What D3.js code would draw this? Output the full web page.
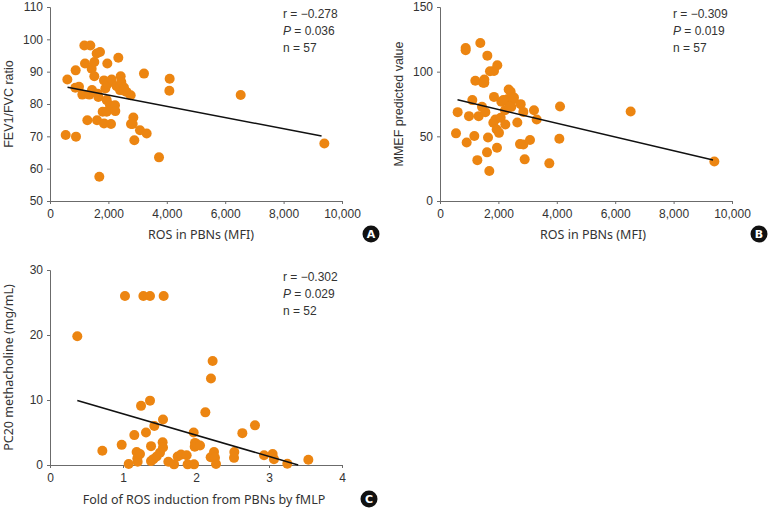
<!DOCTYPE html>
<html>
<head>
<meta charset="utf-8">
<script src="https://cdn.jsdelivr.net/npm/d3@7"></script>
<style>
  body { margin: 0; background: #fff; }
  svg { display: block; }
</style>
</head>
<body>
<svg id="chart" width="771" height="509"></svg>
<script>
// ---------- Panel A: ROS vs FEV1/FVC ----------
const aX = [537,594,890,879,993,868,1107,1176,1381,1199,1279,1347,1427,1438,1518,1518,1598,1712,1632,1610,1655,1689,1804,1849,1849,1895,1941,1963,1941,1975,2055,2089,2112,2226,2237,2283,2340,2397,2420,2420,2443,2534,2626,2763,2774,2854,2831,2888,3082,3219,3311,3733,4087,4098,6530,9395,2534];
const aY = [70.4,87.6,69.9,90.4,85.3,85.0,82.9,98.1,98.1,92.5,75.0,82.9,90.9,84.3,93.0,88.6,95.6,96.1,83.2,75.0,82.2,57.5,77.6,74.0,87.3,84.8,81.2,92.5,77.6,86.3,79.6,73.8,87.6,79.6,77.8,85.5,94.3,84.3,85.8,88.6,86.8,85.1,83.7,82.7,73.8,75.8,73.8,68.8,71.9,89.4,70.9,63.5,84.1,87.8,82.8,67.8,84.1];
const aFit = [86.23, -0.001735];
const aFitRange = [600, 9300];
const aStats = ["r = −0.278", "0.036", "n = 57"];

// ---------- Panel B: ROS vs MMEF ----------
const bX = [548,605,879,879,913,993,1107,1176,1210,1279,1324,1381,1438,1473,1518,1518,1553,1621,1644,1610,1689,1712,1849,1826,1849,1895,1941,1963,1952,2020,2078,2100,2237,2226,2306,2351,2420,2397,2443,2511,2648,2763,2740,2854,2854,2900,3082,3219,3311,3744,4087,4110,6530,9395,2169,2374,2534];
const bY = [52.3,68.7,118.3,116.5,45.3,65.6,78.0,50.2,93.0,31.6,65.6,122.2,72.8,91.4,94.0,91.4,68.7,112.4,49.1,37.6,23.2,100.3,100.6,60.5,80.5,63.0,55.3,105.0,41.2,52.7,64.3,76.7,59.2,70.2,78.7,86.2,84.4,74.1,72.8,78.5,60.7,74.9,44.0,43.7,68.9,32.2,47.1,70.2,63.0,29.1,48.1,73.1,69.2,30.6,78.0,72.8,80.0];
const bFit = [81.4, -0.005322];
const bFitRange = [600, 9350];
const bStats = ["r = −0.309", "0.019", "n = 57"];

// ---------- Panel C: fMLP fold vs PC20 ----------
const cX = [0.374,0.717,0.982,1.027,1.078,1.155,1.187,1.196,1.201,1.233,1.247,1.279,1.315,1.370,1.370,1.384,1.384,1.416,1.429,1.461,1.507,1.543,1.548,1.548,1.557,1.621,1.699,1.749,1.795,1.872,1.886,1.973,1.968,1.986,1.982,2.009,2.055,2.128,2.201,2.205,2.228,2.247,2.260,2.274,2.521,2.525,2.635,2.808,2.932,3.050,3.068,3.251,3.539];
const cY = [19.8,2.2,3.1,26.0,0.15,4.6,2.0,1.0,0.5,1.7,9.1,26.0,5.0,26.0,9.9,2.9,0.6,0.9,6.0,1.3,1.9,3.5,2.7,7.0,26.0,0.5,0.1,1.3,1.6,1.5,0.1,0.1,5.0,3.4,2.8,3.2,3.0,8.1,1.2,13.3,16.0,2.0,1.1,0.15,1.1,2.0,4.9,6.1,1.5,1.7,0.9,0.2,0.8];
const cFit = [11.16, -3.28];
const cFitRange = [0.374, 3.40];
const cStats = ["r = −0.302", "0.029", "n = 52"];

const xTicksROS = [0, 2000, 4000, 6000, 8000, 10000];
const yTicksA = [50, 60, 70, 80, 90, 100, 110];
const yTicksB = [0, 50, 100, 150];
const xTicksC = [0, 1, 2, 3, 4];
const yTicksC = [0, 10, 20, 30];

const DOT = "#EC8511";
const svg = d3.select("#chart");

function panel(cfg) {
  const g = svg.append("g");
  const x = d3.scaleLinear().domain(cfg.xDomain).range([cfg.left, cfg.right]);
  const y = d3.scaleLinear().domain(cfg.yDomain).range([cfg.bottom, cfg.top]);

  const xAxis = g.append("g").attr("transform", `translate(0,${cfg.bottom})`)
    .call(d3.axisBottom(x).tickValues(cfg.xTicks).tickSize(3).tickPadding(5).tickFormat(cfg.xFmt));
  const yAxis = g.append("g").attr("transform", `translate(${cfg.left},0)`)
    .call(d3.axisLeft(y).tickValues(cfg.yTicks).tickSize(3).tickPadding(4).tickFormat(d3.format("d")));
  [xAxis, yAxis].forEach(a => {
    a.select(".domain").attr("stroke", "#6b6b6b").attr("stroke-width", 1);
    a.selectAll(".tick line").attr("stroke", "#6b6b6b");
    a.selectAll(".tick text").attr("fill", "#333").style("font-family", "'Liberation Sans', Arial, sans-serif").style("font-size", "12px");
  });

  g.append("g").selectAll("circle").data(cfg.xs.map((d, i) => [d, cfg.ys[i]]))
    .join("circle")
    .attr("cx", d => x(d[0])).attr("cy", d => y(d[1])).attr("r", 5)
    .attr("fill", DOT);

  const f = v => cfg.fit[0] + cfg.fit[1] * v;
  g.append("line")
    .attr("x1", x(cfg.fitRange[0])).attr("y1", y(f(cfg.fitRange[0])))
    .attr("x2", x(cfg.fitRange[1])).attr("y2", y(f(cfg.fitRange[1])))
    .attr("stroke", "#111").attr("stroke-width", 1.5);

  // stats
  const st = g.append("g").style("font-family", "'Liberation Sans', Arial, sans-serif").style("font-size", "12px").attr("fill", "#333");
  st.append("text").attr("x", cfg.statX).attr("y", cfg.statY).text(cfg.stats[0]);
  const p = st.append("text").attr("x", cfg.statX).attr("y", cfg.statY + 17);
  p.append("tspan").style("font-style", "italic").text("P");
  p.append("tspan").text(" = " + cfg.stats[1]);
  st.append("text").attr("x", cfg.statX).attr("y", cfg.statY + 34).text(cfg.stats[2]);

  // axis titles
  g.append("text").attr("x", cfg.xTitleX).attr("y", cfg.xTitleY)
    .attr("text-anchor", "middle").attr("fill", "#333")
    .style("font-family", "'Noto Sans', 'Open Sans', sans-serif").style("font-size", "12.5px")
    .text(cfg.xTitle);
  g.append("text")
    .attr("transform", `translate(${cfg.yTitleX},${(cfg.top + cfg.bottom) / 2}) rotate(-90)`)
    .attr("text-anchor", "middle").attr("fill", "#333")
    .style("font-family", cfg.yTitleFont).style("font-size", "12.5px")
    .text(cfg.yTitle);

  // badge
  const b = g.append("g").attr("transform", `translate(${cfg.badgeX},${cfg.badgeY})`);
  b.append("circle").attr("r", 8.5).attr("fill", "#111");
  b.append("text").attr("text-anchor", "middle").attr("dy", "0.36em").attr("fill", "#fff")
    .style("font-family", "'DejaVu Sans', sans-serif").style("font-weight", "bold").style("font-size", "11px")
    .text(cfg.badge);
}

const commaFmt = d3.format(",");

panel({
  xDomain: [0, 10000], yDomain: [50, 110], left: 50, right: 342, top: 7, bottom: 201,
  xTicks: xTicksROS, yTicks: yTicksA, xFmt: commaFmt,
  xs: aX, ys: aY, fit: aFit, fitRange: aFitRange, stats: aStats,
  statX: 283, statY: 18,
  xTitle: "ROS in PBNs (MFI)", xTitleX: 201, xTitleY: 239,
  yTitle: "FEV1/FVC ratio", yTitleX: 13, yTitleFont: "'Liberation Sans', Arial, sans-serif",
  badge: "A", badgeX: 371, badgeY: 234
});

panel({
  xDomain: [0, 10000], yDomain: [0, 150], left: 440, right: 732, top: 7, bottom: 201,
  xTicks: xTicksROS, yTicks: yTicksB, xFmt: commaFmt,
  xs: bX, ys: bY, fit: bFit, fitRange: bFitRange, stats: bStats,
  statX: 673, statY: 18,
  xTitle: "ROS in PBNs (MFI)", xTitleX: 593, xTitleY: 239,
  yTitle: "MMEF predicted value", yTitleX: 403, yTitleFont: "'Liberation Sans', Arial, sans-serif",
  badge: "B", badgeX: 759, badgeY: 234
});

panel({
  xDomain: [0, 4], yDomain: [0, 30], left: 50, right: 342, top: 270, bottom: 465,
  xTicks: xTicksC, yTicks: yTicksC, xFmt: d3.format("d"),
  xs: cX, ys: cY, fit: cFit, fitRange: cFitRange, stats: cStats,
  statX: 283, statY: 281,
  xTitle: "Fold of ROS induction from PBNs by fMLP", xTitleX: 204, xTitleY: 504,
  yTitle: "PC20 methacholine (mg/mL)", yTitleX: 13, yTitleFont: "'Noto Sans', 'Open Sans', sans-serif",
  badge: "C", badgeX: 369, badgeY: 499
});
</script>
</body>
</html>
